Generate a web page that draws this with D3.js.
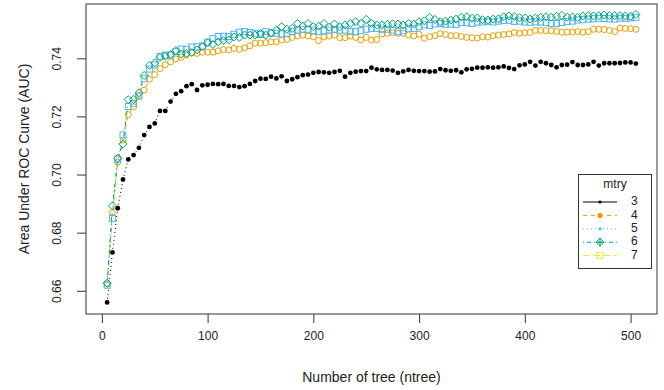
<!DOCTYPE html>
<html>
<head>
<meta charset="utf-8">
<script src="https://cdn.jsdelivr.net/npm/d3@7"></script>
<style>
  body { margin: 0; background: #fff; }
  text { font-family: "Liberation Sans", Arial, sans-serif; fill: #222; }
</style>
</head>
<body>
<div id="canvas"></div>
<script>
// data
const ntree = [5, 10, 15, 20, 25, 30, 35, 40, 45, 50, 55, 60, 65, 70, 75, 80, 85, 90, 95, 100,
  105, 110, 115, 120, 125, 130, 135, 140, 145, 150, 155, 160, 165, 170, 175, 180, 185, 190, 195, 200,
  205, 210, 215, 220, 225, 230, 235, 240, 245, 250, 255, 260, 265, 270, 275, 280, 285, 290, 295, 300,
  305, 310, 315, 320, 325, 330, 335, 340, 345, 350, 355, 360, 365, 370, 375, 380, 385, 390, 395, 400,
  405, 410, 415, 420, 425, 430, 435, 440, 445, 450, 455, 460, 465, 470, 475, 480, 485, 490, 495, 500, 505];

const auc3 = [0.6560, 0.6732, 0.6884, 0.6983, 0.7052, 0.7067, 0.7092, 0.7136, 0.7164, 0.7176,
  0.7219, 0.7219, 0.7251, 0.7278, 0.7287, 0.7304, 0.7311, 0.7291, 0.7307, 0.7309,
  0.7312, 0.7311, 0.7312, 0.7305, 0.7305, 0.7301, 0.7304, 0.7312, 0.7322, 0.7330,
  0.7329, 0.7337, 0.7331, 0.7338, 0.7322, 0.7328, 0.7335, 0.7342, 0.7344, 0.7350,
  0.7353, 0.7352, 0.7350, 0.7353, 0.7357, 0.7337, 0.7350, 0.7354, 0.7356, 0.7356,
  0.7368, 0.7362, 0.7360, 0.7360, 0.7358, 0.7350, 0.7355, 0.7360, 0.7357, 0.7356,
  0.7356, 0.7354, 0.7355, 0.7363, 0.7359, 0.7357, 0.7359, 0.7352, 0.7362, 0.7364,
  0.7368, 0.7368, 0.7369, 0.7368, 0.7369, 0.7372, 0.7367, 0.7363, 0.7376, 0.7379,
  0.7388, 0.7375, 0.7388, 0.7383, 0.7377, 0.7369, 0.7377, 0.7378, 0.7387, 0.7377,
  0.7377, 0.7379, 0.7388, 0.7375, 0.7383, 0.7383, 0.7383, 0.7384, 0.7386, 0.7386, 0.7382];

const auc4 = [0.6624, 0.6870, 0.7043, 0.7119, 0.7206, 0.7233, 0.7273, 0.7291, 0.7328, 0.7344,
  0.7365, 0.7378, 0.7388, 0.7398, 0.7404, 0.7412, 0.7419, 0.7417, 0.7421, 0.7421,
  0.7421, 0.7426, 0.7430, 0.7429, 0.7434, 0.7431, 0.7436, 0.7443, 0.7452, 0.7452,
  0.7454, 0.7457, 0.7457, 0.7463, 0.7465, 0.7472, 0.7477, 0.7480, 0.7477, 0.7474,
  0.7461, 0.7474, 0.7477, 0.7480, 0.7471, 0.7471, 0.7477, 0.7472, 0.7463, 0.7472,
  0.7463, 0.7465, 0.7484, 0.7486, 0.7488, 0.7486, 0.7486, 0.7480, 0.7477, 0.7483,
  0.7469, 0.7475, 0.7478, 0.7485, 0.7482, 0.7478, 0.7478, 0.7475, 0.7472, 0.7471,
  0.7470, 0.7474, 0.7473, 0.7478, 0.7480, 0.7482, 0.7484, 0.7489, 0.7486, 0.7488,
  0.7489, 0.7496, 0.7496, 0.7495, 0.7495, 0.7493, 0.7490, 0.7490, 0.7490, 0.7492,
  0.7490, 0.7492, 0.7500, 0.7500, 0.7499, 0.7496, 0.7492, 0.7504, 0.7503, 0.7502, 0.7500];

const auc5 = [0.6619, 0.6849, 0.7053, 0.7136, 0.7234, 0.7245, 0.7270, 0.7330, 0.7363, 0.7377,
  0.7407, 0.7411, 0.7411, 0.7423, 0.7432, 0.7431, 0.7439, 0.7440, 0.7442, 0.7456,
  0.7468, 0.7475, 0.7476, 0.7475, 0.7483, 0.7490, 0.7492, 0.7489, 0.7486, 0.7482,
  0.7492, 0.7487, 0.7486, 0.7484, 0.7486, 0.7492, 0.7497, 0.7500, 0.7500, 0.7495,
  0.7492, 0.7495, 0.7497, 0.7500, 0.7497, 0.7497, 0.7492, 0.7492, 0.7495, 0.7500,
  0.7503, 0.7503, 0.7500, 0.7500, 0.7497, 0.7492, 0.7495, 0.7503, 0.7503, 0.7509,
  0.7515, 0.7513, 0.7518, 0.7520, 0.7517, 0.7518, 0.7516, 0.7523, 0.7523, 0.7520,
  0.7525, 0.7525, 0.7527, 0.7525, 0.7528, 0.7530, 0.7531, 0.7527, 0.7528, 0.7525,
  0.7524, 0.7526, 0.7525, 0.7523, 0.7520, 0.7520, 0.7523, 0.7527, 0.7528, 0.7532,
  0.7533, 0.7535, 0.7536, 0.7538, 0.7537, 0.7536, 0.7535, 0.7538, 0.7538, 0.7539, 0.7541];

const auc6 = [0.6626, 0.6892, 0.7056, 0.7105, 0.7258, 0.7259, 0.7281, 0.7341, 0.7376, 0.7384,
  0.7403, 0.7408, 0.7413, 0.7427, 0.7415, 0.7417, 0.7420, 0.7429, 0.7440, 0.7453,
  0.7448, 0.7457, 0.7461, 0.7463, 0.7474, 0.7472, 0.7480, 0.7480, 0.7480, 0.7486,
  0.7480, 0.7487, 0.7497, 0.7509, 0.7500, 0.7503, 0.7520, 0.7511, 0.7520, 0.7509,
  0.7511, 0.7520, 0.7507, 0.7518, 0.7509, 0.7515, 0.7520, 0.7526, 0.7520, 0.7534,
  0.7520, 0.7515, 0.7515, 0.7517, 0.7519, 0.7518, 0.7515, 0.7520, 0.7518, 0.7526,
  0.7529, 0.7541, 0.7534, 0.7526, 0.7528, 0.7532, 0.7535, 0.7542, 0.7543, 0.7538,
  0.7539, 0.7533, 0.7532, 0.7535, 0.7536, 0.7543, 0.7546, 0.7544, 0.7540, 0.7539,
  0.7535, 0.7539, 0.7541, 0.7543, 0.7542, 0.7545, 0.7548, 0.7542, 0.7542, 0.7541,
  0.7546, 0.7547, 0.7546, 0.7547, 0.7549, 0.7547, 0.7547, 0.7547, 0.7546, 0.7545, 0.7551];

const xTicks = [0, 100, 200, 300, 400, 500];
const yTicks = [0.66, 0.68, 0.70, 0.72, 0.74];
const mtry = ["3", "4", "5", "6", "7"];

// dimensions
const width = 664;
const height = 390;
const box = {left: 86, right: 657, top: 4, bottom: 314};
const tickLen = 9;
const gap = 3.6; // type "b" gap around each point

var svg = d3.select("#canvas").append("svg")
            .attr("width", width)
            .attr("height", height);

var x = d3.scaleLinear().domain([-15, 525]).range([box.left, box.right]);
var y = d3.scaleLinear().domain([0.652, 0.7587]).range([box.bottom, box.top]);

// series styles as drawn in the plot
var series = [
  {values: auc3, color: "#000", dash: "1,3", mark: "dot"},
  {values: auc4, color: "#E69F00", dash: "4,4", mark: "circle"},
  {values: auc5, color: "#56B4E9", dash: "1,3", mark: "square"},
  {values: auc6, color: "#009E73", dash: "1,3,4,3", mark: "diamond"}
];

// draws a marker into a group
function drawMark(g, mark, color, cx, cy, big) {
  if (mark === "dot") {
    g.append("circle").attr("cx", cx).attr("cy", cy).attr("r", big ? 2.4 : 1.6)
      .attr("fill", color);
  } else if (mark === "fdot") {
    g.append("circle").attr("cx", cx).attr("cy", cy).attr("r", 2.6).attr("fill", color);
  } else if (mark === "circle") {
    g.append("circle").attr("cx", cx).attr("cy", cy).attr("r", 3)
      .attr("fill", "none").attr("stroke", color).attr("stroke-width", 1);
  } else if (mark === "square") {
    g.append("rect").attr("x", cx - 3).attr("y", cy - 3).attr("width", 6).attr("height", 6)
      .attr("fill", "none").attr("stroke", color).attr("stroke-width", 1);
  } else if (mark === "diamond" || mark === "diamondplus") {
    var s = 4;
    g.append("path").attr("d", `M${cx},${cy - s}L${cx + s},${cy}L${cx},${cy + s}L${cx - s},${cy}Z`)
      .attr("fill", "none").attr("stroke", color).attr("stroke-width", 1);
    if (mark === "diamondplus") {
      g.append("path").attr("d", `M${cx - s},${cy}H${cx + s}M${cx},${cy - s}V${cy + s}`)
        .attr("stroke", color).attr("stroke-width", 1);
    }
  }
}

// lines with gaps around points (R type "b")
function gappedPath(vals) {
  var d = "";
  for (var i = 1; i < vals.length; i++) {
    var x0 = x(ntree[i - 1]), y0 = y(vals[i - 1]);
    var x1 = x(ntree[i]), y1 = y(vals[i]);
    var len = Math.hypot(x1 - x0, y1 - y0);
    if (len <= 2 * gap) continue;
    var ux = (x1 - x0) / len, uy = (y1 - y0) / len;
    d += `M${x0 + ux * gap},${y0 + uy * gap}L${x1 - ux * gap},${y1 - uy * gap}`;
  }
  return d;
}

var plot = svg.append("g");

series.forEach(function(s) {
  plot.append("path")
    .attr("d", gappedPath(s.values))
    .attr("fill", "none")
    .attr("stroke", s.color)
    .attr("stroke-width", 1)
    .attr("stroke-dasharray", s.dash);
});

series.forEach(function(s) {
  var g = plot.append("g");
  s.values.forEach(function(v, i) {
    drawMark(g, s.mark, s.color, x(ntree[i]), y(v), true);
  });
});

// box
svg.append("rect")
  .attr("x", box.left).attr("y", box.top)
  .attr("width", box.right - box.left).attr("height", box.bottom - box.top)
  .attr("fill", "none").attr("stroke", "#333").attr("stroke-width", 1);

// x axis
var xAxis = d3.axisBottom(x).tickValues(xTicks).tickSize(tickLen).tickPadding(8)
  .tickFormat(d3.format("d"));
var xAxisGroup = svg.append("g")
  .attr("transform", `translate(0, ${box.bottom})`)
  .call(xAxis);
xAxisGroup.select(".domain").remove();
xAxisGroup.selectAll("line").attr("stroke", "#333");
xAxisGroup.selectAll("text").attr("font-size", 12).attr("font-family", null).attr("fill", null);

// y axis, labels parallel to the axis
var yAxis = d3.axisLeft(y).tickValues(yTicks).tickSize(tickLen).tickFormat(d3.format(".2f"));
var yAxisGroup = svg.append("g")
  .attr("transform", `translate(${box.left}, 0)`)
  .call(yAxis);
yAxisGroup.select(".domain").remove();
yAxisGroup.selectAll("line").attr("stroke", "#333");
yAxisGroup.selectAll("text")
  .attr("font-size", 12).attr("font-family", null).attr("fill", null)
  .attr("x", null).attr("dy", null)
  .attr("text-anchor", "middle")
  .attr("dominant-baseline", "middle")
  .attr("transform", "translate(-28, 0) rotate(-90)");

// axis titles
svg.append("text")
  .attr("text-anchor", "middle")
  .attr("x", (box.left + box.right) / 2)
  .attr("y", 382)
  .attr("font-size", 14)
  .text("Number of tree (ntree)");

svg.append("text")
  .attr("text-anchor", "middle")
  .attr("dominant-baseline", "middle")
  .attr("transform", `translate(25, ${(box.top + box.bottom) / 2}) rotate(-90)`)
  .attr("font-size", 14)
  .text("Area Under ROC Curve (AUC)");

// legend
var legendStyles = [
  {color: "#000", dash: null, mark: "dot"},
  {color: "#E69F00", dash: "4,4", mark: "fdot"},
  {color: "#56B4E9", dash: "1,3", mark: "dot"},
  {color: "#009E73", dash: "1,3,4,3", mark: "diamondplus"},
  {color: "#F0E442", dash: "7,3", mark: "square"}
];
var legend = svg.append("g");
legend.append("rect")
  .attr("x", 578.5).attr("y", 174.5).attr("width", 73).attr("height", 94)
  .attr("fill", "#fff").attr("stroke", "#333").attr("stroke-width", 1);
legend.append("text")
  .attr("x", 615).attr("y", 185)
  .attr("text-anchor", "middle").attr("dominant-baseline", "middle")
  .attr("font-size", 12)
  .text("mtry");
mtry.forEach(function(m, i) {
  var ly = 202 + i * 13.4;
  var st = legendStyles[i];
  legend.append("line")
    .attr("x1", 583).attr("x2", 617).attr("y1", ly).attr("y2", ly)
    .attr("stroke", st.color).attr("stroke-width", 1)
    .attr("stroke-dasharray", st.dash);
  drawMark(legend, st.mark, st.color, 600, ly, false);
  legend.append("text")
    .attr("x", 631).attr("y", ly)
    .attr("dominant-baseline", "middle")
    .attr("font-size", 12)
    .text(m);
});
</script>
</body>
</html>
